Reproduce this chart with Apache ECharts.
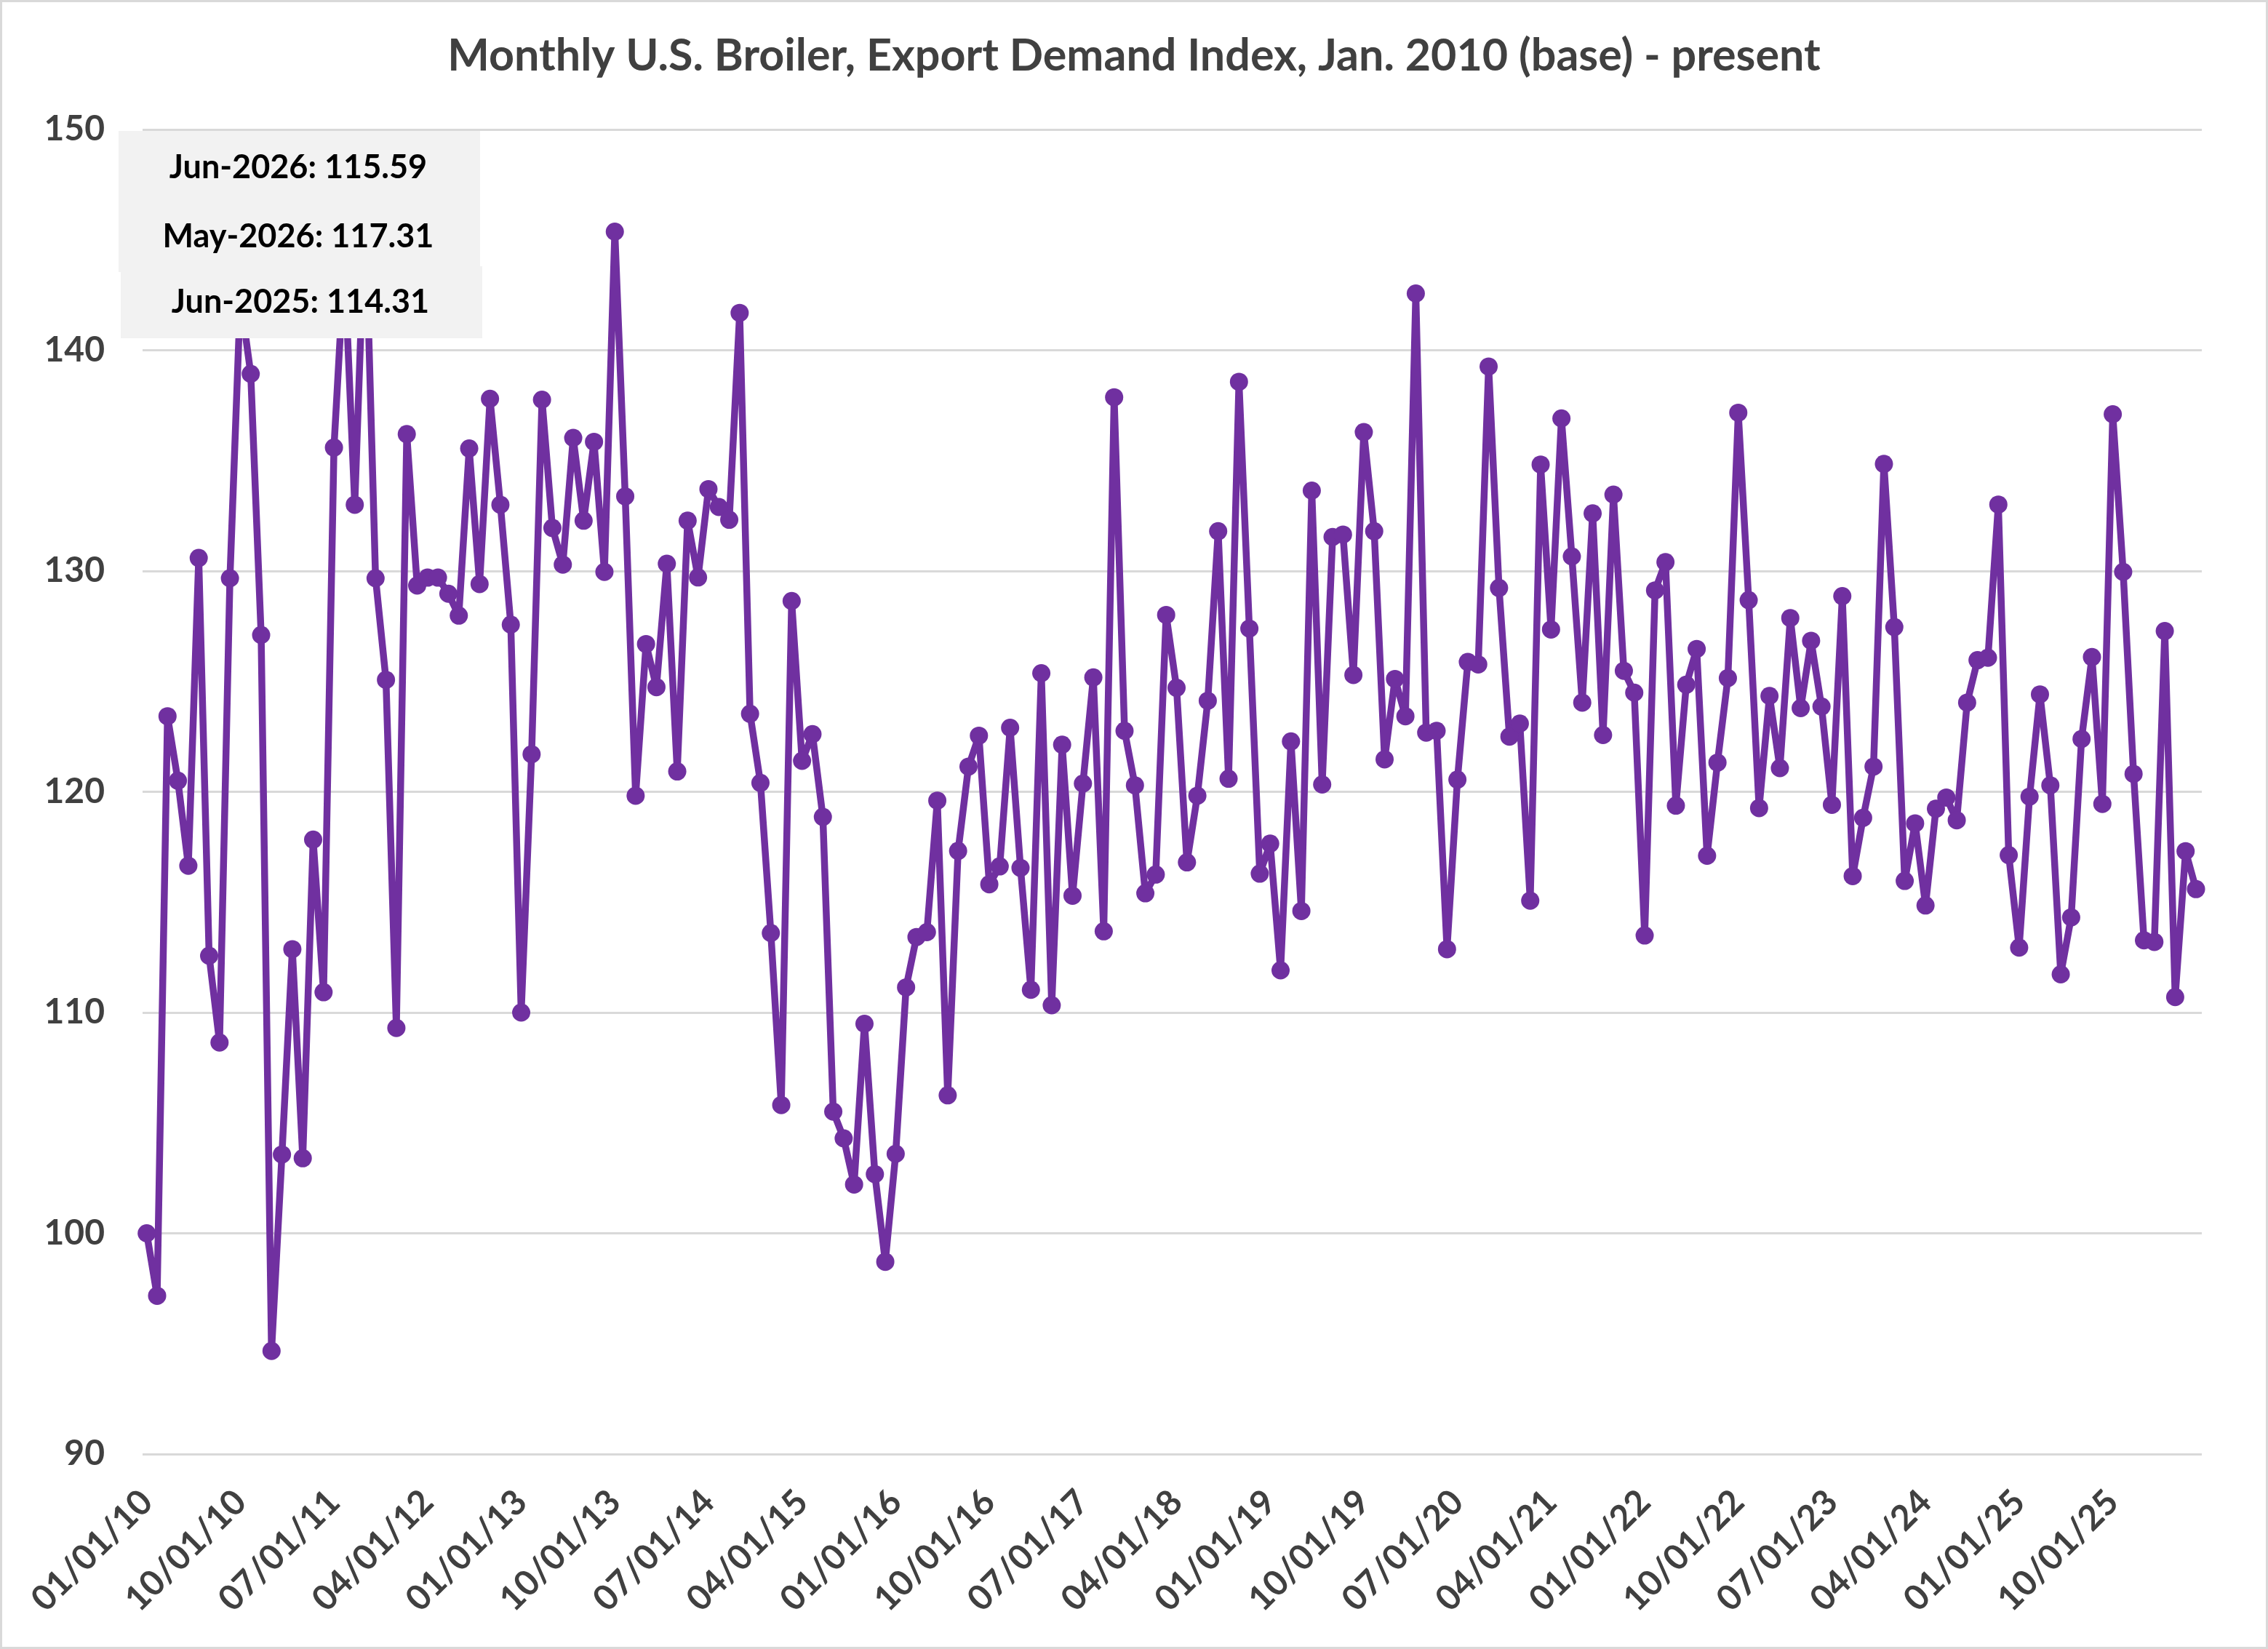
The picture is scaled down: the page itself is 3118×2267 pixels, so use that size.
<!DOCTYPE html>
<html>
<head>
<meta charset="utf-8">
<title>Monthly U.S. Broiler, Export Demand Index</title>
<script src="https://cdn.jsdelivr.net/npm/echarts@6/dist/echarts.min.js"></script>
<style>
  html, body { margin: 0; padding: 0; background: #ffffff; }
  #chart { width: 3118px; height: 2267px; }
</style>
</head>
<body>
<div id="chart"></div>
<script>
// index values read month by month, Jan. 2010 = 100
var idx2010to2012 = [
  100.0, 97.17, 123.42, 120.5, 116.65, 130.59, 112.57, 108.64, 129.67, 142.4, 138.93, 127.1,
  94.67, 103.57, 112.87, 103.4, 117.83, 110.92, 135.59, 144.0, 133.0, 146.5, 129.67, 125.07,
  109.3, 136.2, 129.34, 129.7, 129.7, 128.97, 127.98, 135.55, 129.41, 137.8, 133.0, 127.57
];
var idx2013to2015 = [
  110.0, 121.7, 137.76, 131.95, 130.29, 136.03, 132.28, 135.85, 129.96, 145.37, 133.38, 119.82,
  126.69, 124.74, 130.33, 120.92, 132.28, 129.71, 133.71, 132.9, 132.32, 141.69, 123.53, 120.4,
  113.6, 105.81, 128.64, 121.4, 122.61, 118.86, 105.51, 104.3, 102.21, 109.49, 102.68, 98.71
];
var idx2016to2018 = [
  103.6, 111.14, 113.42, 113.64, 119.6, 106.25, 117.32, 121.14, 122.54, 115.81, 116.62, 122.9,
  116.55, 111.03, 125.37, 110.33, 122.13, 115.29, 120.37, 125.18, 113.68, 137.87, 122.76, 120.29,
  115.4, 116.25, 128.01, 124.71, 116.8, 119.82, 124.12, 131.8, 120.59, 138.57, 127.39, 116.29
];
var idx2019to2021 = [
  117.65, 111.91, 122.28, 114.6, 133.64, 120.33, 131.54, 131.65, 125.29, 136.29, 131.8, 121.47,
  125.11, 123.42, 142.57, 122.68, 122.76, 112.87, 120.55, 125.88, 125.77, 139.26, 129.23, 122.5,
  123.09, 115.07, 134.82, 127.35, 136.91, 130.66, 124.04, 132.61, 122.57, 133.46, 125.48, 124.49
];
var idx2022to2024 = [
  113.49, 129.12, 130.4, 119.37, 124.85, 126.47, 117.1, 121.32, 125.15, 137.17, 128.68, 119.26,
  124.34, 121.07, 127.87, 123.79, 126.84, 123.86, 119.41, 128.86, 116.18, 118.82, 121.14, 134.85,
  127.46, 115.96, 118.57, 114.85, 119.23, 119.74, 118.71, 124.04, 125.96, 126.07, 133.01, 117.13
];
var idx2025to2026 = [
  112.94, 119.78, 124.41, 120.29, 111.73, 114.31, 122.39, 126.1, 119.45, 137.1, 129.96, 120.81,
  113.27, 113.2, 127.28, 110.7, 117.31, 115.59
];

var values = [].concat(idx2010to2012, idx2013to2015, idx2016to2018,
  idx2019to2021, idx2022to2024, idx2025to2026);

var startYear = 2010;
var monthNames = ['Jan', 'Feb', 'Mar', 'Apr', 'May', 'Jun', 'Jul', 'Aug', 'Sep', 'Oct', 'Nov', 'Dec'];
var yTicks = [90, 100, 110, 120, 130, 140, 150];

// category labels like 01/01/10
var months = [];
for (var i = 0; i < values.length; i++) {
  var m = i % 12 + 1;
  var y = (startYear + Math.floor(i / 12)) % 100;
  months.push((m < 10 ? '0' : '') + m + '/01/' + (y < 10 ? '0' : '') + y);
}

function calloutText(i) {
  return monthNames[i % 12] + '-' + (startYear + Math.floor(i / 12)) + ': ' + values[i].toFixed(2);
}
var last = values.length - 1;
var callouts = [calloutText(last), calloutText(last - 1), calloutText(last - 12)];

var FONT = 'Lato, "Noto Sans", sans-serif';
var chart = echarts.init(document.getElementById('chart'));

var option = {
  backgroundColor: '#ffffff',
  animation: false,
  title: {
    text: 'Monthly U.S. Broiler, Export Demand Index, Jan. 2010 (base) - present',
    left: 'center',
    top: 42,
    textStyle: { fontFamily: FONT, fontWeight: 'bold', fontSize: 61, color: '#404040' }
  },
  grid: [
    { left: 201.7, right: 99, top: 178, bottom: 268 },  // series
    { left: 196, right: 91, top: 178, bottom: 268 }     // gridlines + y labels
  ],
  xAxis: [{
    type: 'category',
    gridIndex: 0,
    data: months,
    boundaryGap: false,
    axisLine: { show: false },
    axisTick: { show: false },
    axisLabel: {
      interval: 8,
      rotate: 45,
      margin: 58,
      fontFamily: FONT,
      fontWeight: 'bold',
      fontSize: 48,
      color: '#404040'
    },
    splitLine: { show: false }
  }, {
    type: 'value',
    gridIndex: 1,
    show: false,
    min: 0,
    max: 1
  }],
  yAxis: [{
    type: 'value',
    gridIndex: 0,
    min: yTicks[0],
    max: yTicks[yTicks.length - 1],
    interval: 10,
    axisLabel: { show: false },
    axisLine: { show: false },
    axisTick: { show: false },
    splitLine: { show: false }
  }, {
    type: 'value',
    gridIndex: 1,
    min: yTicks[0],
    max: yTicks[yTicks.length - 1],
    interval: 10,
    axisLine: { show: false },
    axisTick: { show: false },
    axisLabel: {
      margin: 52,
      fontFamily: FONT,
      fontWeight: 'bold',
      fontSize: 48,
      color: '#404040'
    },
    splitLine: { lineStyle: { color: '#d9d9d9', width: 3 } }
  }],
  series: [{
    type: 'line',
    name: 'Export Demand Index',
    xAxisIndex: 0,
    yAxisIndex: 0,
    data: values,
    symbol: 'circle',
    symbolSize: 25,
    showAllSymbol: true,
    lineStyle: { color: '#7030a0', width: 9.5 },
    itemStyle: { color: '#7030a0' },
    z: 3
  }],
  graphic: [
    // chart area border
    {
      type: 'rect', z: 1, silent: true,
      shape: { x: 1.5, y: 1.5, width: 3115, height: 2264 },
      style: { fill: 'none', stroke: '#d9d9d9', lineWidth: 3 }
    },
    // callout boxes over the plot
    {
      type: 'rect', z: 100,
      shape: { x: 163, y: 180, width: 497, height: 194 },
      style: { fill: '#f2f2f2' }
    },
    {
      type: 'rect', z: 100,
      shape: { x: 166, y: 366, width: 497, height: 99 },
      style: { fill: '#f2f2f2' }
    },
    {
      type: 'text', z: 101, x: 410, y: 230,
      style: { text: callouts[0], align: 'center', verticalAlign: 'middle',
        fontFamily: FONT, fontWeight: 'bold', fontSize: 45, fill: '#000000' }
    },
    {
      type: 'text', z: 101, x: 410, y: 325,
      style: { text: callouts[1], align: 'center', verticalAlign: 'middle',
        fontFamily: FONT, fontWeight: 'bold', fontSize: 45, fill: '#000000' }
    },
    {
      type: 'text', z: 101, x: 413, y: 415,
      style: { text: callouts[2], align: 'center', verticalAlign: 'middle',
        fontFamily: FONT, fontWeight: 'bold', fontSize: 45, fill: '#000000' }
    }
  ]
};

chart.setOption(option);
</script>
</body>
</html>
